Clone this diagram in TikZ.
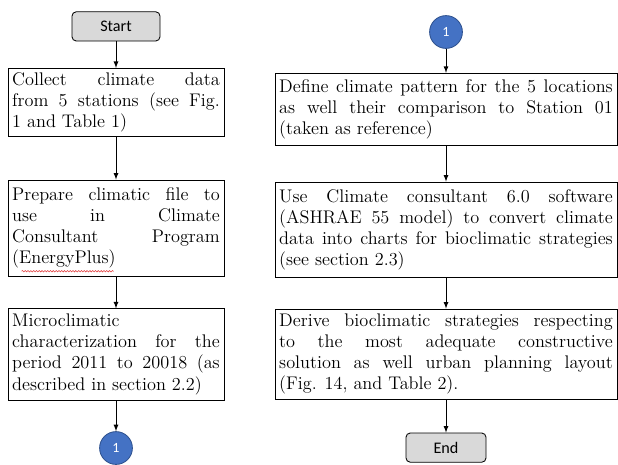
\documentclass[tikz,border=0pt]{standalone}
\usepackage{fontspec}
\usepackage{tikz}
\usetikzlibrary{calc}
\usetikzlibrary{arrows}
\usetikzlibrary{positioning}
\usetikzlibrary{decorations.pathmorphing}
\newfontfamily\carlito{Carlito}
\definecolor{terminalgray}{RGB}{217, 217, 217}
\definecolor{linkblue}{RGB}{68, 114, 196}
\definecolor{linkrim}{RGB}{47, 82, 143}
\definecolor{spellred}{RGB}{225, 60, 60}

\tikzset{
  terminal/.style={draw, rounded corners=3pt, fill=terminalgray, line width=0.6pt,
                   minimum height=0.73cm, font=\carlito\fontsize{11.5}{13}\selectfont},
  stepbox/.style={draw, line width=0.6pt, align=justify, inner sep=3pt,
                  font=\fontsize{13}{15}\selectfont},
  leftbox/.style={stepbox, text width=5.19cm},
  rightbox/.style={stepbox, text width=8.34cm},
  link/.style={circle, draw=linkrim, fill=linkblue, line width=0.6pt, minimum size=0.82cm,
               inner sep=0pt, text=white, font=\carlito\fontsize{10}{12}\selectfont},
  flow/.style={->, >=latex, line width=0.6pt}
}

\begin{document}
\begin{tikzpicture}
            \useasboundingbox (0.00, 0.00) rectangle (15.45,-11.60);
            % left column
            \node[terminal, minimum width=2.20cm] (start)   at ( 2.90, -0.66) {Start};
            \node[leftbox, minimum height=1.43cm]  (collect) at ( 2.90, -2.56)
                 {Collect climate data\linebreak from 5 stations (see Fig.\linebreak 1 and Table 1)};
            \node[leftbox, minimum height=2.40cm]  (prepare) at ( 2.90, -5.70)
                 {Prepare climatic file to\linebreak use in Climate\linebreak Consultant Program\linebreak (EnergyPlus)};
            \node[leftbox, minimum height=2.28cm]  (micro)   at ( 2.90, -8.86)
                 {Microclimatic\newline characterization for the\linebreak period 2011 to 20018 (as\linebreak described in section 2.2)};
            \node[link]                            (linkA)   at ( 2.90,-11.20) {1};
            % right column
            \node[link]                            (linkB)   at (11.15, -0.80) {1};
            \node[rightbox, minimum height=1.80cm] (define)  at (11.15, -2.73)
                 {Define climate pattern for the 5 locations\linebreak as well their comparison to Station 01\linebreak (taken as reference)};
            \node[rightbox, minimum height=2.38cm] (convert) at (11.15, -5.74)
                 {Use Climate consultant 6.0 software\linebreak (ASHRAE 55 model) to convert climate\linebreak data into charts for bioclimatic strategies\linebreak (see section 2.3)};
            \node[rightbox, minimum height=2.25cm] (derive)  at (11.15, -8.85)
                 {Derive bioclimatic strategies respecting\linebreak to the most adequate constructive\linebreak solution as well urban planning layout\linebreak (Fig. 14, and Table 2).};
            \node[terminal, minimum width=2.00cm] (end)     at (11.15,-11.19) {End};
            % arrows
            \draw[flow] (start)   -- (collect);
            \draw[flow] (collect) -- (prepare);
            \draw[flow] (prepare) -- (micro);
            \draw[flow] (micro)   -- (linkA);
            \draw[flow] (linkB)   -- (define);
            \draw[flow] (define)  -- (convert);
            \draw[flow] (convert) -- (derive);
            \draw[flow] (derive)  -- (end);
            % spell-check mark
            \draw[spellred, line width=0.4pt, decorate, decoration={snake, amplitude=0.5pt, segment length=2pt}]
                 ($(prepare.south west)+(0.35, 0.13)$) -- ++(2.30, 0);
\end{tikzpicture}
\end{document}
